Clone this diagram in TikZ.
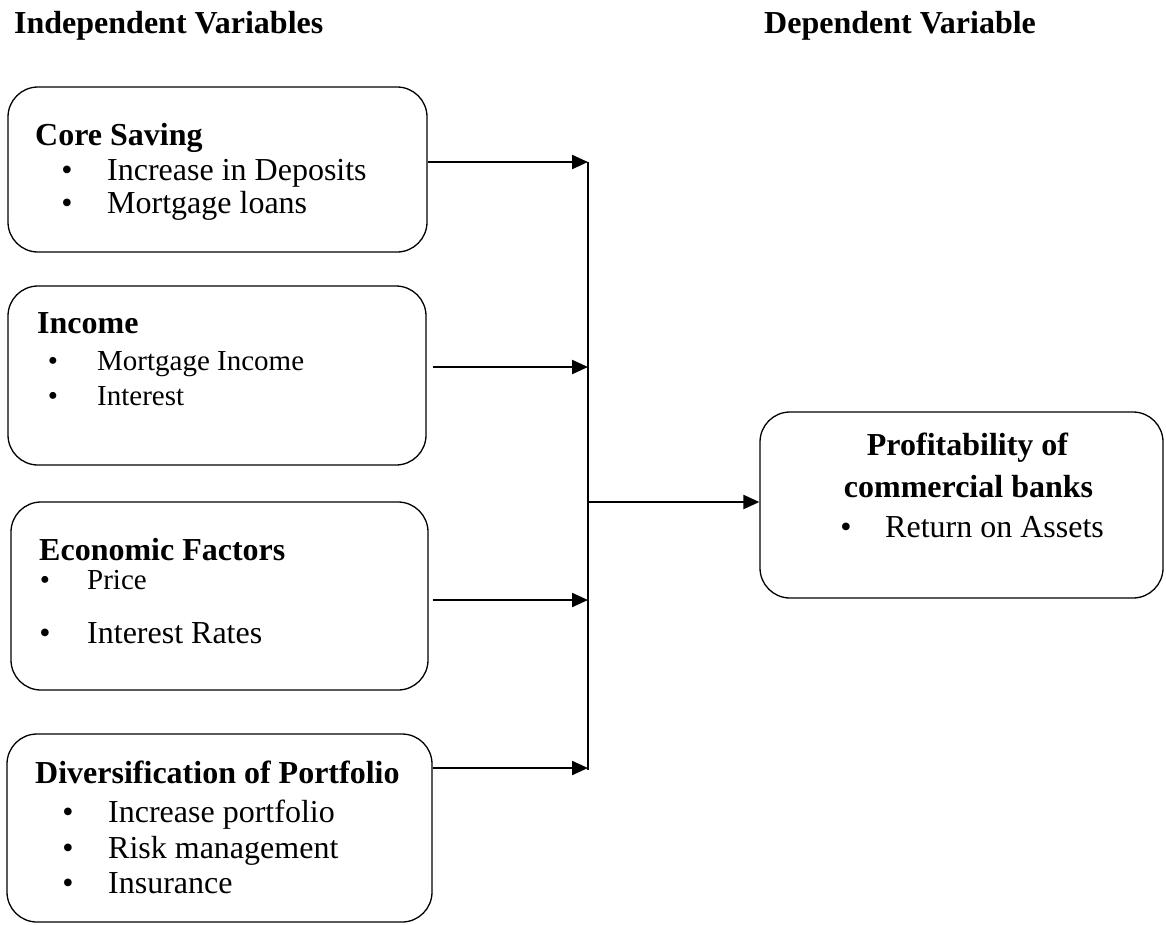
\documentclass[tikz,border=0pt]{standalone}
\usepackage{fontspec}
\setmainfont{Liberation Serif}
\usetikzlibrary{arrows.meta, positioning}

\tikzset{
  box/.style={draw, rounded corners=30pt, line width=1.3pt, inner sep=0pt},
  txt/.style={anchor=base west, inner sep=0pt, font=\fontsize{32}{38}\selectfont},
  sml/.style={anchor=base west, inner sep=0pt, font=\fontsize{29}{35}\selectfont},
  hd/.style={anchor=base west, inner sep=0pt, font=\fontsize{32}{38}\selectfont\bfseries},
  bul/.style={anchor=base, inner sep=0pt, font=\fontsize{32}{38}\selectfont},
  link/.style={line width=2.2pt, -{Triangle[length=16pt, width=14pt]}},
}

\begin{document}
\begin{tikzpicture}[x=1pt, y=-1pt]
\useasboundingbox (0,0) rectangle (1166,924);

% TITLES
\node[hd] (indep) at (14,33) {Independent Variables};
\node[hd] (dep) at (764,33) {Dependent Variable};

% BOXES
\node[box, minimum width=419pt, minimum height=165pt] (core) at (217.5,169.5) {};
\node[box, minimum width=418pt, minimum height=179pt] (inc) at (217,375.5) {};
\node[box, minimum width=417pt, minimum height=188pt] (eco) at (219.5,596) {};
\node[box, minimum width=425pt, minimum height=188pt] (div) at (219.5,828) {};
\node[box, minimum width=403pt, minimum height=186pt] (prof) at (961.5,505) {};

% TEXTS
% core saving
\node[hd] (coreT) at (35,145) {Core Saving};
\foreach \y/\t [count=\i] in {180/Increase in Deposits, 213/Mortgage loans} {
  \node[bul] (coreB\i) at (67,\y) {\textbullet};
  \node[txt] (coreI\i) at (107,\y) {\t};
}
% income
\node[hd] (incT) at (37,333) {Income};
\foreach \y/\t [count=\i] in {370/Mortgage Income, 405/Interest} {
  \node[bul, font=\fontsize{29}{35}\selectfont] (incB\i) at (53,\y) {\textbullet};
  \node[sml] (incI\i) at (97,\y) {\t};
}
% economic factors
\node[hd] (ecoT) at (39,560) {Economic Factors};
\node[bul, font=\fontsize{29}{35}\selectfont] (ecoB1) at (45,589) {\textbullet};
\node[sml] (ecoI1) at (87,589) {Price};
\node[bul] (ecoB2) at (45,643) {\textbullet};
\node[txt] (ecoI2) at (87,643) {Interest Rates};
% diversification
\node[hd] (divT) at (35,783) {Diversification of Portfolio};
\foreach \y/\t [count=\i] in {822/Increase portfolio, 858/Risk management, 893/Insurance} {
  \node[bul] (divB\i) at (68,\y) {\textbullet};
  \node[txt] (divI\i) at (108,\y) {\t};
}
% profitability
\node[hd, anchor=base] (profT1) at (967.5,455) {Profitability of};
\node[hd, anchor=base] (profT2) at (968.5,497) {commercial banks};
\node[bul] (profB1) at (846,537) {\textbullet};
\node[txt] (profI1) at (885,537) {Return on Assets};

% EDGES
\coordinate (j1) at (588,162);
\coordinate (j2) at (588,367);
\coordinate (j3) at (588,600);
\coordinate (j4) at (588,768);
\coordinate (hub) at (588,502);
\draw[link] (core.east |- j1) -- (j1);
\draw[link] ([xshift=6pt]inc.east |- j2) -- (j2);
\draw[link] ([xshift=4pt]eco.east |- j3) -- (j3);
\draw[link] (div.east |- j4) -- (j4);
\draw[line width=1.8pt] (j1) -- ([yshift=-2pt]j4);
\draw[link] (hub) -- (prof.west |- hub);

\end{tikzpicture}
\end{document}
